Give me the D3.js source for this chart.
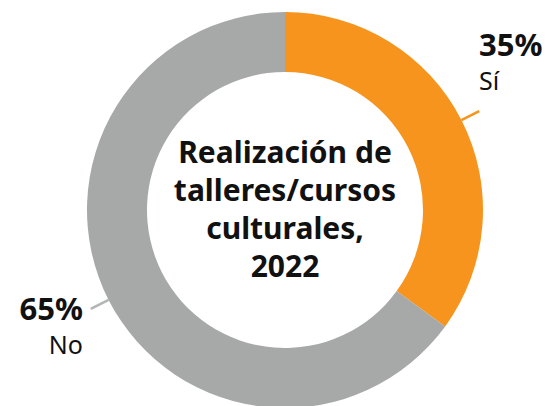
<!DOCTYPE html>
<html>
<head>
<meta charset="utf-8">
<script src="https://cdn.jsdelivr.net/npm/d3@7"></script>
<style>
  html, body { margin: 0; padding: 0; background: #fff; }
  svg { display: block; font-family: "Noto Sans", "Open Sans", sans-serif; }
</style>
</head>
<body>
<svg id="chart" width="551" height="406"></svg>
<script>
// Share of people who attended cultural workshops/courses, 2022
const categories = ["Sí", "No"];
const values = [35, 65];
const colors = ["#F7941D", "#A7A9A8"];
const leaderColors = ["#F7941D", "#B3B5B4"];
const titleLines = ["Realización de", "talleres/cursos", "culturales,", "2022"];

const svg = d3.select("#chart");
const cx = 285, cy = 210;
const outerR = 198, innerR = 138;

const data = categories.map((c, i) => ({ category: c, value: values[i], color: colors[i], leader: leaderColors[i] }));

const pie = d3.pie().value(d => d.value).sort(null);
const arc = d3.arc().innerRadius(innerR).outerRadius(outerR);
const arcs = pie(data);

const g = svg.append("g").attr("transform", `translate(${cx},${cy})`);

g.selectAll("path.slice")
  .data(arcs)
  .join("path")
  .attr("class", "slice")
  .attr("d", arc)
  .attr("fill", d => d.data.color);

// short leader ticks from the outer edge at each slice's mid angle
const mid = d => (d.startAngle + d.endAngle) / 2;
const polar = (a, r) => [Math.sin(a) * r, -Math.cos(a) * r];

g.selectAll("line.leader")
  .data(arcs)
  .join("line")
  .attr("class", "leader")
  .attr("x1", d => polar(mid(d), outerR)[0])
  .attr("y1", d => polar(mid(d), outerR)[1])
  .attr("x2", d => polar(mid(d), outerR + 20)[0])
  .attr("y2", d => polar(mid(d), outerR + 20)[1])
  .attr("stroke", d => d.data.leader)
  .attr("stroke-width", 2.5);

// value + category labels
const labelPos = [
  { x: 479, y: 56, anchor: "start" },
  { x: 83, y: 320, anchor: "end" }
];

arcs.forEach((d, i) => {
  const p = labelPos[i];
  svg.append("text")
    .attr("x", p.x).attr("y", p.y)
    .attr("text-anchor", p.anchor)
    .attr("font-size", 31)
    .attr("font-weight", 700)
    .attr("fill", "#111")
    .text(d.data.value + "%");
  svg.append("text")
    .attr("x", p.x).attr("y", p.y + 34)
    .attr("text-anchor", p.anchor)
    .attr("font-size", 25)
    .attr("fill", "#111")
    .text(d.data.category);
});

// centre title
const title = svg.append("text")
  .attr("text-anchor", "middle")
  .attr("font-size", 30)
  .attr("font-weight", 700)
  .attr("fill", "#111");
titleLines.forEach((t, i) => {
  title.append("tspan").attr("x", cx).attr("y", 163 + i * 38).text(t);
});
</script>
</body>
</html>
